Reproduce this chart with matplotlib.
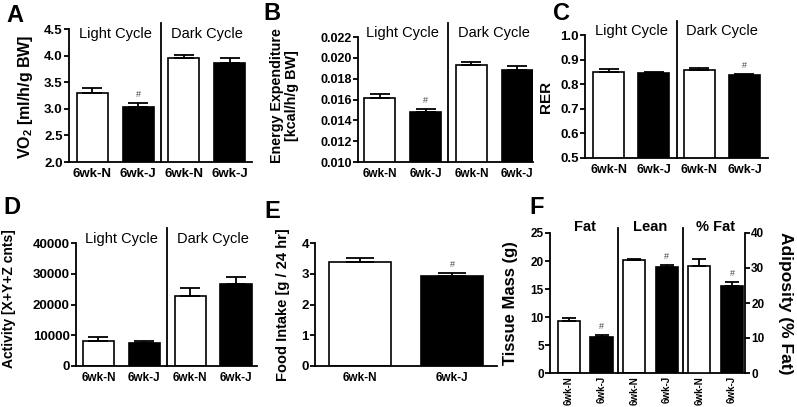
import numpy as np
import matplotlib
matplotlib.use("Agg")
import matplotlib.pyplot as plt
import matplotlib.transforms as mtransforms

plt.rcParams['font.family'] = ['Liberation Sans', 'DejaVu Sans']
plt.rcParams['mathtext.fontset'] = 'custom'
plt.rcParams['mathtext.rm'] = 'Liberation Sans:bold'
plt.rcParams['mathtext.bf'] = 'Liberation Sans:bold'

# groups
groups = ['6wk-N', '6wk-J', '6wk-N', '6wk-J']
colors = ['white', 'black', 'white', 'black']

# A: VO2
vo2 = [3.30, 3.03, 3.95, 3.86]
vo2_err = [0.10, 0.07, 0.07, 0.09]
vo2_sig = [False, True, False, False]

# B: energy expenditure
ee = [0.0161, 0.0148, 0.0193, 0.0188]
ee_err = [0.0004, 0.0003, 0.0003, 0.0004]
ee_sig = [False, True, False, False]

# C: RER
rer = [0.850, 0.845, 0.857, 0.836]
rer_err = [0.010, 0.004, 0.009, 0.004]
rer_sig = [False, False, False, True]

# D: activity
act = [8000, 7400, 22700, 26600]
act_err = [1300, 600, 2600, 2400]

# E: food intake
food_groups = ['6wk-N', '6wk-J']
food = [3.37, 2.92]
food_err = [0.13, 0.11]
food_sig = [False, True]

# F: body composition
comp_groups = ['6wk-N', '6wk-J', '6wk-N', '6wk-J', '6wk-N', '6wk-J']
tissue = [9.2, 6.4, 20.1, 18.9]          # Fat N, Fat J, Lean N, Lean J (g)
tissue_err = [0.7, 0.4, 0.3, 0.3]
tissue_sig = [False, True, False, True]
adip = [30.7, 25.0]                        # % fat N, J
adip_err = [1.9, 0.9]
adip_sig = [False, True]

W, H = 797, 407
fig = plt.figure(figsize=(W / 100, H / 100), dpi=100)


def make_ax(left, right, top, bottom):
    return fig.add_axes([left / W, 1 - bottom / H, (right - left) / W, (bottom - top) / H])


def style(ax, xsize=9, ysize=9):
    for s in ['top', 'right']:
        ax.spines[s].set_visible(False)
    for s in ['left', 'bottom']:
        ax.spines[s].set_linewidth(1.3)
    ax.tick_params(axis='y', length=3.5, width=1.3, labelsize=ysize, pad=1)
    ax.tick_params(axis='x', length=0, labelsize=xsize, pad=4)
    for lab in ax.get_xticklabels() + ax.get_yticklabels():
        lab.set_fontweight('bold')


def ylab(ax, text, size, xc, yc=0.5, rot=90):
    ax.set_ylabel(text, fontsize=size, fontweight='bold', rotation=rot, va='center',
                  ha='center', linespacing=1.1)
    ax.yaxis.set_label_coords(xc, yc)


def bars(ax, x, vals, errs, cols, sig, width=0.68, capsize=7):
    ax.bar(x, vals, width=width, color=cols, edgecolor='black', linewidth=1.2, zorder=2)
    ax.errorbar(x, vals, yerr=[np.zeros(len(vals)), errs], fmt='none', ecolor='black',
                elinewidth=1.3, capsize=capsize, capthick=1.3, zorder=3)
    if sig is not None:
        for xi, v, e, s in zip(x, vals, errs, sig):
            if s:
                ax.annotate('#', (xi, v + e), xytext=(0, 3), textcoords='offset points',
                            ha='center', va='bottom', fontsize=6.5, color='#444444')


def divider(ax, xd, above_px, bottom_px, top_px):
    trans = mtransforms.blended_transform_factory(ax.transData, ax.transAxes)
    h = bottom_px - top_px
    ax.plot([xd, xd], [0, 1 + above_px / h], transform=trans, color='black',
            lw=1.3, clip_on=False, zorder=4)


def cycle_labels(ax, y_frac):
    trans = mtransforms.blended_transform_factory(ax.transData, ax.transAxes)
    ax.text(0.5, y_frac, 'Light Cycle', transform=trans, ha='center', va='center', fontsize=10.5)
    ax.text(2.5, y_frac, 'Dark Cycle', transform=trans, ha='center', va='center', fontsize=10.5)


x4 = np.arange(4)

# ---- A ----
axA = make_ax(69, 252, 29, 162)
bars(axA, x4, vo2, vo2_err, colors, vo2_sig)
axA.set_xlim(-0.51, 3.49)
axA.set_ylim(2.0, 4.5)
yt = np.arange(2.0, 4.51, 0.5)
axA.set_yticks(yt)
axA.set_yticklabels(['%.1f' % v for v in yt])
axA.set_xticks(x4)
axA.set_xticklabels(groups)
ylab(axA, r'VO$_\mathbf{2}$ [ml/h/g BW]', 11.5, -0.235, 0.49)
divider(axA, 1.5, 6, 162, 29)
cycle_labels(axA, 0.965)
style(axA, 9.5, 9.5)

# ---- B ----
axB = make_ax(358, 533, 37, 162)
bars(axB, x4, ee, ee_err, colors, ee_sig)
axB.set_xlim(-0.47, 3.34)
axB.set_ylim(0.010, 0.022)
yt = np.arange(0.010, 0.0221, 0.002)
axB.set_yticks(yt)
axB.set_yticklabels(['%.3f' % v for v in yt])
axB.set_xticks(x4)
axB.set_xticklabels(groups)
ylab(axB, 'Energy Expenditure\n[kcal/h/g BW]', 10.3, -0.42, 0.53)
divider(axB, 1.5, 14, 162, 37)
cycle_labels(axB, 1.03)
style(axB, 8.5, 9)

# ---- C ----
axC = make_ax(585, 768, 35, 158)
bars(axC, x4, rer, rer_err, colors, rer_sig)
axC.set_xlim(-0.52, 3.52)
axC.set_ylim(0.5, 1.0)
yt = np.arange(0.5, 1.01, 0.1)
axC.set_yticks(yt)
axC.set_yticklabels(['%.1f' % v for v in yt])
axC.set_xticks(x4)
axC.set_xticklabels(groups)
ylab(axC, 'RER', 11, -0.213, 0.5)
divider(axC, 1.5, 14, 158, 35)
cycle_labels(axC, 1.03)
style(axC, 9, 9.5)

# ---- D ----
axD = make_ax(76, 257, 243, 366)
bars(axD, x4, act, act_err, colors, None)
axD.set_xlim(-0.49, 3.46)
axD.set_ylim(0, 40000)
axD.set_yticks(np.arange(0, 40001, 10000))
axD.set_xticks(x4)
axD.set_xticklabels(groups)
ylab(axD, 'Activity [X+Y+Z cnts]', 10, -0.37, 0.55)
divider(axD, 1.5, 15, 366, 243)
cycle_labels(axD, 1.03)
style(axD, 8.5, 9.5)

# ---- E ----
axE = make_ax(315, 497, 243, 366)
x2 = np.arange(2)
bars(axE, x2, food, food_err, ['white', 'black'], food_sig, width=0.67, capsize=10)
axE.set_xlim(-0.49, 1.49)
axE.set_ylim(0, 4)
axE.set_yticks(np.arange(0, 5, 1))
axE.set_xticks(x2)
axE.set_xticklabels(food_groups)
ylab(axE, 'Food Intake [g / 24 hr]', 10.5, -0.176, 0.5)
style(axE, 8.5, 9.5)

# ---- F ----
axF = make_ax(550, 745, 233, 373)
x6 = np.arange(6)
bars(axF, x6[:4], tissue, tissue_err, ['white', 'black', 'white', 'black'], tissue_sig,
     width=0.68, capsize=5)
axF.set_xlim(-0.58, 5.4)
axF.set_ylim(0, 25)
axF.set_yticks(np.arange(0, 26, 5))
axF.set_xticks(x6)
axF.set_xticklabels(comp_groups, rotation=90)
ylab(axF, 'Tissue Mass (g)', 12, -0.2, 0.5)
style(axF, 7, 8.5)
axF.tick_params(axis='x', pad=2)
axF2 = axF.twinx()
bars(axF2, x6[4:], adip, adip_err, ['white', 'black'], adip_sig, width=0.68, capsize=5)
axF2.set_ylim(0, 40)
axF2.set_yticks(np.arange(0, 41, 10))
for s in ['top', 'left', 'bottom']:
    axF2.spines[s].set_visible(False)
axF2.spines['right'].set_linewidth(1.3)
axF2.tick_params(axis='y', length=3.5, width=1.3, labelsize=8.5, pad=1)
for lab in axF2.get_yticklabels():
    lab.set_fontweight('bold')
ylab(axF2, 'Adiposity (% Fat)', 12.5, 1.21, 0.5, rot=270)
divider(axF, 1.5, 5, 373, 233)
divider(axF, 3.5, 5, 373, 233)
transF = mtransforms.blended_transform_factory(axF.transData, axF.transAxes)
for xc, name in zip([0.5, 2.5, 4.5], ['Fat', 'Lean', '% Fat']):
    axF.text(xc, 1.04, name, transform=transF, ha='center', va='center',
             fontsize=10.5, fontweight='bold')

# panel letters
for lx, ly, letter in [(15, 15, 'A'), (272, 14, 'B'), (562, 14, 'C'),
                       (12, 208, 'D'), (272, 212, 'E'), (537, 208, 'F')]:
    fig.text(lx / W, 1 - ly / H, letter, fontsize=17, fontweight='bold',
             ha='center', va='center')

fig.savefig('out.png', dpi=100)
